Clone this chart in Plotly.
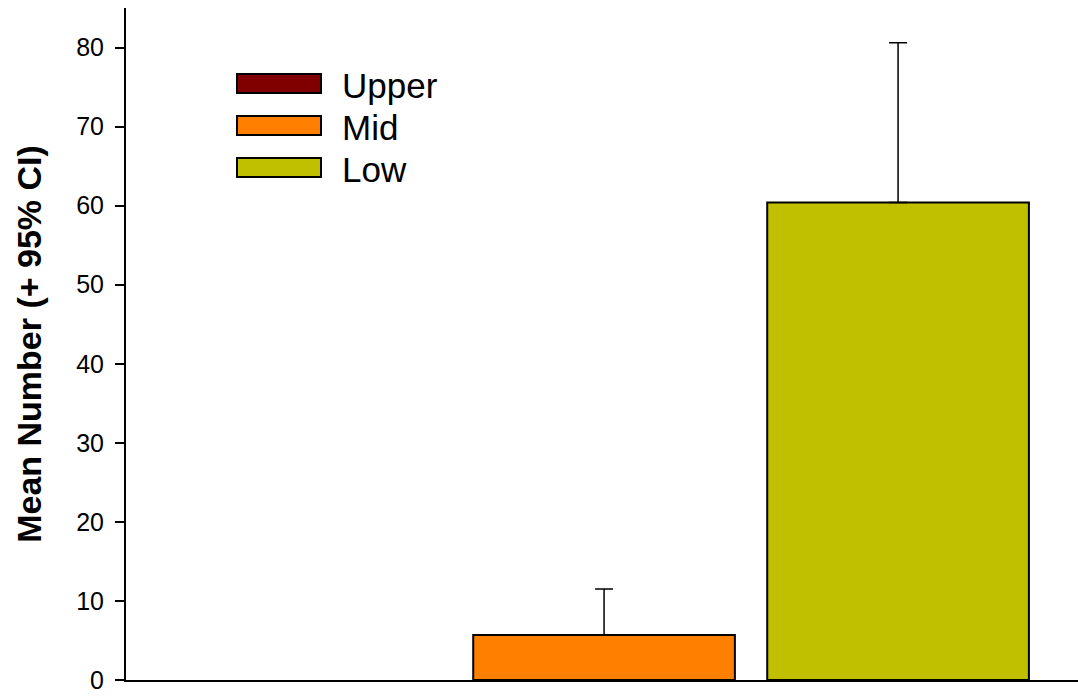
import plotly.graph_objects as go

categories = ["Upper", "Mid", "Low"]
means = [0.0, 5.7, 60.4]
ci_upper = [0.0, 11.5, 80.6]
colors = ["#800000", "#FF8000", "#C0C000"]
y_ticks = [0, 10, 20, 30, 40, 50, 60, 70, 80]

fig = go.Figure()
for i, (cat, m, u, col) in enumerate(zip(categories, means, ci_upper, colors)):
    has_bar = m > 0
    has_err = u > m
    fig.add_trace(go.Bar(
        x=[i], y=[m], name=cat,
        marker=dict(color=col, line=dict(color="black", width=2 if has_bar else 0)),
        error_y=dict(type="data", array=[u - m], arrayminus=[0], symmetric=False,
                     color="black", thickness=1.5, width=9, visible=has_err),
        showlegend=False,
    ))

# Legend drawn as boxes + labels (paper coordinates)
W, H = 1078, 696
L, T, B = 126, 8, 16
plot_w = W - L
plot_h = H - T - B
for i, (cat, col) in enumerate(zip(categories, colors)):
    y0_px = 74 + i * 42
    y1_px = y0_px + 19
    fig.add_shape(type="rect", xref="paper", yref="paper",
                  x0=(237 - L) / plot_w, x1=(321 - L) / plot_w,
                  y0=1 - (y1_px - T) / plot_h, y1=1 - (y0_px - T) / plot_h,
                  fillcolor=col, line=dict(color="black", width=2))
    fig.add_annotation(xref="paper", yref="paper",
                       x=(340 - L) / plot_w, y=1 - ((y0_px + y1_px) / 2 + 2 - T) / plot_h,
                       text=cat, showarrow=False, xanchor="left", yanchor="middle",
                       font=dict(size=35, color="black", family="Arial, Liberation Sans"))

fig.update_layout(
    width=W, height=H,
    margin=dict(l=L, r=0, t=T, b=B),
    plot_bgcolor="white", paper_bgcolor="white",
    barmode="overlay",
    bargap=0.11,
    font=dict(family="Arial, Liberation Sans", color="black"),
    xaxis=dict(range=[-0.626, 2.612], showticklabels=False, ticks="",
               showline=True, linecolor="black", linewidth=2, showgrid=False,
               zeroline=False),
    yaxis=dict(range=[0, 85], tickvals=y_ticks, ticks="outside", ticklen=9,
               tickwidth=2, tickcolor="black", showline=True, linecolor="black",
               linewidth=2, showgrid=False, zeroline=False,
               tickfont=dict(size=25, color="black"), ticklabelstandoff=6,
               title=dict(text="<b>Mean Number (+ 95% CI)</b>",
                          font=dict(size=34, color="black"), standoff=24)),
)

fig.write_html("out.html")
